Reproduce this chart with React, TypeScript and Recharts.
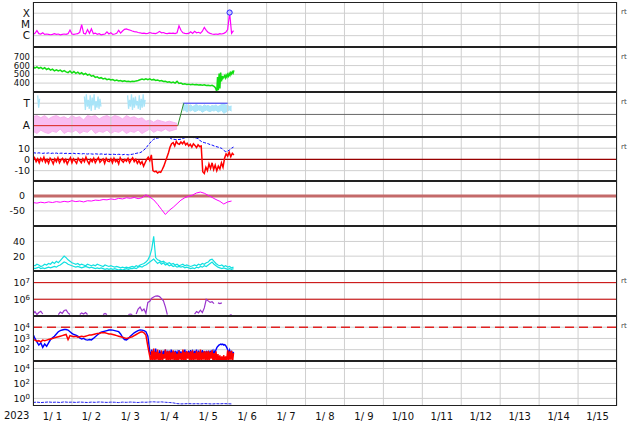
import React from 'react';
import { ComposedChart, Line, Area, XAxis, YAxis, ReferenceLine, ReferenceDot } from 'recharts';

const W = 634;
const PLOT_L = 33;
const PLOT_R = 617;
const TOP = 2;
const PH = 44.86;
const GRID = '#cfcfcf';
const FONT = '"DejaVu Sans", Verdana, sans-serif';

const days = [0, 1, 2, 3, 4, 5, 6, 7, 8, 9, 10, 11, 12, 13, 14, 15];
const dateLabels = ['1/ 1', '1/ 2', '1/ 3', '1/ 4', '1/ 5', '1/ 6', '1/ 7', '1/ 8', '1/ 9', '1/10', '1/11', '1/12', '1/13', '1/14', '1/15'];
const yearLabel = '2023';

// panel 1: x-ray flux in units of C1 (1e-6 W/m2), every 0.05 day
const xrayTicks = [1, 10, 100];
const xrayLabels = ['C', 'M', 'X'];
const xrayC = [
  1.3, 1.6, 2.8, 1.5, 1.4, 1.8, 1.3, 1.4, 1.3, 1.2,
  1.3, 1.5, 1.3, 1.4, 1.2, 1.3, 1.4, 1.3, 1.5, 3.2,
  1.4, 1.3, 1.4, 1.5, 2.0, 9.5, 1.6, 1.4, 3.5, 1.6,
  4.0, 1.5, 1.7, 1.3, 1.5, 1.2, 1.3, 1.4, 2.2, 1.4,
  1.8, 1.3, 1.4, 1.6, 3.0, 1.7, 2.6, 3.6, 4.0, 3.4,
  3.0, 2.6, 2.3, 2.2, 1.9, 1.8, 1.6, 1.7, 1.5, 1.6,
  1.9, 1.7, 1.6, 1.5, 1.8, 2.4, 1.8, 1.9, 1.6, 1.5,
  1.7, 1.6, 1.7, 1.5, 1.8, 7.5, 3.0, 1.8, 1.6, 1.5,
  1.6, 2.2, 1.6, 2.4, 1.8, 2.0, 1.6, 2.5, 5.5, 3.0,
  1.9, 1.6, 1.4, 1.3, 1.4, 1.3, 1.5, 1.4, 1.6, 2.0,
  3.5, 115, 1.6, 2.8,
];

// panel 2: solar wind speed (km/s)
const windTicks = [400, 500, 600, 700];
const windMain = [
  590, 572, 585, 568, 580, 562, 575, 555, 568, 548,
  560, 540, 552, 538, 548, 530, 542, 528, 520, 538,
  515, 532, 512, 525, 505, 518, 498, 510, 492, 500,
  478, 485, 465, 472, 455, 462, 448, 455, 440, 447,
  435, 440, 428, 435, 425, 430, 420, 426, 418, 422,
  415, 420, 418, 425, 430, 438, 445, 438, 450, 440,
  448, 435, 442, 430, 436, 425, 430, 418, 422, 410,
  415, 405, 412, 400, 420, 395, 400, 388, 392, 385,
  388, 382, 386, 380, 384, 378, 382, 376, 380, 372,
  376, 370, 374, 362,
];
const windEnd = [350, 330, 305, 470, 320, 510, 340, 520, 420, 480, 455, 470, 485, 460, 490, 470, 500, 480, 510, 490, 520, 505, 530, 515, 545];

// panel 3: IMF sector (A = away, T = toward)
const sectorTicks = [1, 3];
const sectorLabels = ['A', 'T'];
const sectorT = [0, 3.72, 3.87, 5.0];
const sectorV = [1, 1, 3, 3];
const pinkLo = [0.5, 0.3, 0.6, 0.4, 0.3, 0.5, 0.4, 0.7, 0.3, 0.5, 0.4, 0.6, 0.3, 0.5, 0.4, 0.7, 0.3, 0.5, 0.4, 0.6, 0.3, 0.5, 0.4, 0.6, 0.3, 0.5, 0.4, 0.6, 0.3, 0.5, 0.7, 0.4, 0.6, 0.5, 0.7, 0.5, 0.6, 0.7];
const pinkHi = [1.8, 1.9, 1.7, 1.9, 1.6, 1.8, 1.9, 1.7, 1.8, 1.6, 1.9, 1.7, 1.8, 1.5, 1.9, 1.8, 1.9, 1.6, 1.8, 1.9, 1.7, 1.9, 1.8, 1.6, 1.9, 1.7, 1.8, 1.6, 1.7, 1.4, 1.5, 1.3, 1.5, 1.4, 1.3, 1.4, 1.3, 1.2];
const towardLo = [2.3, 2.4, 2.2, 2.35, 2.3, 2.4, 2.25, 2.3, 2.4, 2.35, 2.2, 2.3, 2.4, 2.3, 2.25, 2.35, 2.3, 2.4, 2.2, 2.3, 2.35, 2.1, 2.2, 2.3, 2.4, 2.3];
const towardHi = [3.1, 2.8, 2.9, 2.75, 2.85, 2.7, 2.8, 2.9, 2.75, 2.8, 2.7, 2.85, 2.75, 2.8, 2.7, 2.8, 2.75, 2.85, 2.7, 2.8, 2.9, 2.95, 2.85, 2.8, 2.7, 2.75];
const towardSpots1 = [3.7, 2.6, 3.4];
const towardSpots2 = [3.6, 2.4, 3.8, 2.7, 3.3, 2.5, 3.7, 2.3, 3.5, 2.8, 3.8, 2.4, 3.2, 2.6, 3.6, 2.5, 3.4, 2.7];
const towardSpots3 = [3.7, 2.5, 3.3, 2.7, 3.8, 2.4, 3.5, 2.6, 3.6, 2.8, 3.2, 2.5, 3.7, 2.4, 3.4, 2.6, 3.8, 2.7, 3.3];

// panel 4: IMF Bt / Bz (nT)
const imfTicks = [-10, 0, 10];
const bt = [
  6.0, 5.8, 5.5, 5.9, 5.6, 5.4, 5.7, 5.5, 5.8, 5.3,
  5.6, 5.4, 5.7, 5.2, 5.5, 5.6, 5.3, 5.5, 5.1, 5.4,
  5.2, 5.5, 5.0, 5.3, 5.1, 4.9, 5.2, 5.0, 4.8, 5.1,
  4.9, 4.7, 5.0, 4.8, 4.6, 4.9, 4.7, 4.5, 4.8, 4.6,
  4.4, 4.7, 4.5, 4.3, 4.6, 4.4, 4.2, 4.5, 4.3, 4.1,
  4.4, 4.6, 5.0, 5.4, 5.8, 6, 7, 8.5, 10, 12.5,
  14.5, 16.5, 18, 18.5, 19, 19.5, 19.8, 20, 19.8, 19.5,
  19.7, 18.5, 18, 17.8, 17.5, 17.8, 18, 18.8, 19.3, 19.6,
  19.8, 19.5, 19.7, 19.2, 19, 18.5, 16.5, 15.5, 15, 14.5,
  14, 13.2, 12.8, 12, 11.5, 11, 10.5, 9.8, 8, 7,
  7.5, 8.5, 10, 11,
];
const bz = [
  -1, 1.5, -2, 0.5, -3, 1, -1.5, 2, -2.5, 0,
  -3.5, 1, -1, -4, 0.5, -2, 1.5, -3, -0.5, 1,
  -2.5, 0, -4, -1, 1.5, -3, 0.5, -1.5, -3.5, 1,
  -1, -3, 0.5, -2, 2, -1.5, -4, 0, -2, 1,
  -3, -0.5, 1.5, -2.5, -1, 0.5, -3.5, 1, -1.5, -2,
  0.5, -3, 1, -2, -0.5, -4, 1.5, -1, -2.5, 0,
  -1.5, 1, -3, -0.5, 1.5, -2, 0, -3.5, -1, -4,
  -2, -6, -3, 0, 2, -1, 4, -10, -11, -10.5,
  -12, -11, -11.5, -9, -6, -2, 2, 6, 11, 14,
  15, 12, 16, 14, 13.5, 15.5, 14, 16, 13, 14.5,
  12, 13.5, 11, 14, 12.5, 10.5, 13, 11.5, 12, -11,
  -12.5, -7, -10, -4, -8, -3, -9, -5, -10, -6,
  -8.5, -3, -7, 1, 5, 3, 6.5, 2.5, 5.5, 4,
];

// panel 5: Dst (nT), every 0.1 day
const dstTicks = [-50, 0];
const dst = [
  -22, -24, -21, -23, -20, -22, -19, -21, -18, -20,
  -16, -19, -17, -20, -16, -17, -14, -15, -12, -13,
  -10, -12, -8, -10, -6, -8, -5, -9, -6, 4,
  -4, -13, -28, -45, -62, -48, -38, -26, -14, -6,
  -1, 3, 10, 13, 9, 2, -5, -12, -18, -27,
  -20, -17,
];

// panel 6: two cyan indices
const idxTicks = [20, 40];
const idxA = [
  8, 7, 9, 8, 6, 7, 9, 8, 10, 9, 12, 10, 13, 11, 14, 17, 20, 18, 15, 13,
  11, 10, 9, 10, 8, 9, 8, 7, 9, 8, 7, 8, 7, 9, 8, 7, 6, 8, 7, 6,
  7, 6, 5, 6, 5, 4, 5, 4, 5, 4, 5, 6, 5, 7, 6, 8, 9, 10, 12, 15,
  20, 30, 47, 18, 15, 14, 12, 13, 11, 10, 11, 9, 10, 8, 9, 7, 8, 9, 7, 8,
  7, 6, 7, 8, 7, 9, 8, 10, 9, 11, 12, 15, 16, 13, 10, 8, 7, 8, 6, 7,
  5, 6, 4, 5,
];
const idxB = [
  4, 3, 4, 5, 3, 4, 3, 4, 5, 4, 5, 6, 5, 7, 8, 10, 12, 11, 9, 8,
  7, 6, 5, 6, 5, 4, 5, 6, 5, 4, 5, 4, 3, 4, 3, 4, 3, 2, 3, 2,
  3, 2, 3, 2, 1, 2, 1, 2, 3, 2, 3, 3, 4, 3, 5, 6, 5, 7, 8, 10,
  12, 14, 16, 13, 10, 12, 9, 11, 8, 9, 7, 8, 6, 7, 5, 6, 5, 6, 4, 5,
  4, 3, 4, 3, 5, 4, 6, 5, 7, 6, 8, 10, 12, 9, 7, 5, 4, 3, 4, 3,
  2, 3, 2, 3,
];

// panel 7: proton flux, log10
const protonTicks = [6, 7];
const protonLog = [
  5.11, 5.26, 5.08, 5.2, 5.28, 5.11, null, null, null, null,
  null, null, null, 5.08, 5.23, 5.15, 5.32, 5.36, 5.18, 5.08,
  null, null, null, null, 5.08, 5.18, 5.11, 5.2, 5.08, null,
  null, null, null, null, null, null, 5.08, 5.15, 5.08, null,
  null, null, null, null, null, null, null, null, null, 5.08,
  5.11, 5.08, null, 5.11, 5.41, 5.53, 5.3, 5.41, 5.15, 5.81,
  5.88, 6.06, 6.13, 6.19, 6.2, 6.16, 6.04, 5.9, 5.54, 5.08,
  null, null, null, null, null, null, null, null, null, null,
  null, null, null, 5.11, 5.26, 5.18, 5.34, 5.2, 5.48, 6.0,
  5.9, 5.81, 5.85, 5.74, null, 5.78, 5.74, 5.78, null, null,
  null, 5.04, 5.08,
];

// panel 8: electron flux, log10 (0.05 day before day 3, 0.025 day after)
const elecTicks = [2, 3, 4];
const elecBlueA = [
  3.4, 3.0, 2.7, 2.4, 2.6, 2.2, 2.5, 2.3, 2.6, 2.9,
  3.05, 3.2, 3.4, 3.6, 3.7, 3.75, 3.8, 3.8, 3.75, 3.6,
  3.45, 3.35, 3.3, 3.2, 3.05, 2.95, 3.0, 2.9, 2.85, 2.9,
  2.87, 3.0, 3.15, 3.3, 3.45, 3.55, 3.6, 3.65, 3.7, 3.75,
  3.76, 3.74, 3.7, 3.65, 3.6, 3.4, 3.1, 2.9, 2.87, 3.0,
  3.2, 3.35, 3.5, 3.6, 3.7, 3.76, 3.74, 3.7, 3.6, 3.2,
];
const elecRedA = [
  2.9, 2.85, 2.75, 2.8, 2.7, 2.85, 2.8, 2.85, 2.9, 2.95,
  3.0, 3.05, 3.1, 3.15, 3.2, 3.25, 3.3, 3.35, 2.9, 3.25,
  3.2, 3.15, 3.2, 3.1, 3.15, 3.2, 3.15, 3.2, 3.25, 3.3,
  3.3, 3.35, 3.4, 3.45, 3.45, 3.5, 3.5, 3.5, 3.45, 3.4,
  3.4, 3.35, 3.3, 3.25, 3.2, 3.15, 3.1, 3.05, 3.0, 3.05,
  3.1, 3.15, 3.25, 3.35, 3.45, 3.55, 3.6, 3.5, 3.3, 2.3,
];
const elecBlueB = [
  1.8, 1.5, 2.0, 1.2, 1.9, 1.0, 2.1, 1.3, 1.8, 1.1,
  1.95, 1.4, 1.85, 1.2, 1.9, 1.5, 2.0, 1.3, 1.8, 1.6,
  1.9, 1.4, 2.0, 1.5, 1.85, 1.3, 1.9, 1.6, 1.8, 1.4,
  1.95, 1.5, 1.85, 1.3, 1.9, 1.6, 2.0, 1.4, 1.8, 1.5,
  1.9, 1.3, 1.95, 1.6, 1.85, 1.4, 1.9, 1.5, 2.0, 1.3,
  1.8, 1.6, 1.9, 1.4, 1.95, 1.5, 1.85, 1.3, 1.9, 1.6,
  1.8, 1.5, 1.9, 1.6, 1.85, 1.5, 1.9, 1.7, 2.0, 2.2,
  2.3, 2.4, 2.45, 2.5, 2.45, 2.5, 2.4, 2.45, 2.35, 2.2,
  2.0, 1.7, 1.95, 1.5, 1.9, 1.4, 1.8,
];
const elecRedB = [
  1.4, 0.9, 1.9, 1.0, 2.1, 0.9, 1.8, 1.1, 2.0, 0.9,
  1.7, 1.0, 1.95, 0.9, 1.6, 1.2, 2.0, 0.9, 1.85, 1.0,
  1.9, 0.9, 1.75, 1.1, 1.95, 0.9, 1.8, 1.0, 1.65, 0.9,
  1.9, 1.1, 1.7, 0.9, 2.0, 1.0, 1.8, 0.9, 1.9, 1.2,
  1.75, 0.9, 1.85, 1.0, 1.95, 0.9, 1.7, 1.1, 1.9, 0.9,
  1.8, 1.0, 2.0, 0.9, 1.75, 1.1, 1.9, 0.9, 1.85, 1.0,
  1.9, 0.9, 1.8, 1.2, 1.95, 0.9, 1.7, 1.0, 1.85, 0.9,
  1.6, 0.9, 1.5, 0.9, 1.4, 1.0, 1.5, 0.9, 1.4, 1.0,
  1.95, 0.9, 1.85, 1.1, 1.9, 0.9, 1.7,
];

// panel 9: log10, every 0.1 day
const lowTicks = [0, 2, 4];
const lowLog = [
  -0.55, -0.5, -0.56, -0.52, -0.48, -0.53, -0.5, -0.55, -0.47, -0.52,
  -0.5, -0.54, -0.49, -0.52, -0.55, -0.5, -0.53, -0.48, -0.51, -0.54,
  -0.5, -0.52, -0.56, -0.5, -0.53, -0.49, -0.52, -0.55, -0.5, -0.52,
  -0.48, -0.46, -0.5, -0.47, -0.52, -0.55, -0.6, -0.7, -0.74, -0.72,
  -0.7, -0.73, -0.71, -0.74, -0.7, -0.72, -0.75, -0.71, -0.73, -0.7,
  -0.72, -0.74,
];

const rtPanels = [0, 1, 2, 3, 6, 7];

const seq = (t0: number, dt: number, vals: (number | null)[]) => vals.map((v, i) => ({ t: t0 + i * dt, v }));
const band = (t0: number, dt: number, lo: number[], hi: number[]) => lo.map((l, i) => ({ t: t0 + i * dt, v: [l, hi[i]] }));

const xrayData = seq(0, 0.05, xrayC);
const flarePeak = xrayData.reduce((a, b) => ((b.v as number) > (a.v as number) ? b : a));
const windData = [...seq(0, 0.05, windMain), ...seq(4.68, 0.02, windEnd)];
const sectorPts = sectorT.map((t, i) => ({ t, v: sectorV[i] }));

const txt = { fontFamily: FONT, fontSize: 9.5, fill: '#111' };

const labelTick = (ticks: number[], labels: string[]) => (p: any) => (
  <text x={p.x} y={p.y} dy="0.35em" textAnchor="end" {...txt} fontSize={10.5}>
    {labels[ticks.indexOf(p.payload.value)]}
  </text>
);
const powTick = (p: any) => (
  <text x={p.x} y={p.y} dy="0.4em" textAnchor="end" {...txt}>
    10<tspan dy="-0.5em" fontSize={7}>{p.payload.value}</tspan>
  </text>
);

const lineProps = { isAnimationActive: false, dot: false, activeDot: false, type: 'linear' as const, dataKey: 'v' };

type PanelProps = {
  index: number;
  domain: [number, number];
  ticks: number[];
  tick?: any;
  tickMargin?: number;
  scale?: 'linear' | 'log';
  bottom?: boolean;
  children?: React.ReactNode;
};

function Panel({ index, domain, ticks, tick = txt, tickMargin = 3, scale = 'linear', bottom = false, children }: PanelProps) {
  return (
    <div style={{ position: 'absolute', left: 0, top: TOP + index * PH }}>
      <ComposedChart width={W} height={PH + (bottom ? 18 : 0)} margin={{ top: 0, right: W - PLOT_R, bottom: 0, left: 0 }}>
        <XAxis
          type="number"
          dataKey="t"
          domain={[0, 15]}
          allowDataOverflow
          hide={!bottom}
          ticks={dateLabels.map((_, i) => i + 0.5)}
          interval={0}
          tickFormatter={(v: number) => dateLabels[Math.floor(v)]}
          axisLine={false}
          tickLine={false}
          tickSize={0}
          tickMargin={7}
          height={18}
          tick={{ ...txt, fontSize: 10 }}
        />
        <YAxis
          type="number"
          scale={scale}
          domain={domain}
          ticks={ticks}
          interval={0}
          allowDataOverflow
          width={PLOT_L}
          axisLine={false}
          tickLine={false}
          tickSize={0}
          tickMargin={tickMargin}
          tick={tick}
        />
        {days.map((d) => <ReferenceLine key={`gx${d}`} x={d} stroke={GRID} />)}
        {ticks.map((v) => <ReferenceLine key={`gy${v}`} y={v} stroke={GRID} />)}
        {children}
      </ComposedChart>
    </div>
  );
}

export default function App() {
  const seps = [1, 2, 3, 4, 5, 6, 7, 8];
  return (
    <div style={{ position: 'absolute', left: 0, top: 0, width: W, height: 424, background: '#fff', fontFamily: FONT }}>
      <Panel index={0} domain={[0.1, 1000]} ticks={xrayTicks} scale="log" tick={labelTick(xrayTicks, xrayLabels)}>
        <Line {...lineProps} data={xrayData} stroke="#ff00ff" strokeWidth={1.2} />
        <ReferenceDot x={flarePeak.t} y={flarePeak.v as number} r={2.6} fill="#c8c8ff" stroke="#2222ff" strokeWidth={1} />
      </Panel>

      <Panel index={1} domain={[300, 812]} ticks={windTicks} tick={{ ...txt, fontSize: 8.5 }}>
        <Line {...lineProps} data={windData} stroke="#11dd11" strokeWidth={1.5} />
      </Panel>

      <Panel index={2} domain={[0, 4]} ticks={sectorTicks} tick={labelTick(sectorTicks, sectorLabels)}>
        <Area isAnimationActive={false} data={band(0, 0.1, pinkLo, pinkHi)} dataKey="v" type="linear" stroke="#f6b0ee" strokeWidth={1} fill="#f9bdf2" fillOpacity={1} dot={false} activeDot={false} />
        <Area isAnimationActive={false} data={band(3.85, 0.05, towardLo, towardHi)} dataKey="v" type="linear" stroke="#a8e4f8" strokeWidth={1} fill="#ace6fa" fillOpacity={1} dot={false} activeDot={false} />
        <Line {...lineProps} data={seq(0.12, 0.025, towardSpots1)} stroke="#a8e4f8" strokeWidth={1.3} />
        <Line {...lineProps} data={seq(1.32, 0.025, towardSpots2)} stroke="#a8e4f8" strokeWidth={1.3} />
        <Line {...lineProps} data={seq(2.43, 0.025, towardSpots3)} stroke="#a8e4f8" strokeWidth={1.3} />
        <ReferenceLine y={2} stroke="#666" />
        <Line {...lineProps} data={sectorPts.slice(0, 2)} stroke="#e02020" strokeWidth={1} />
        <Line {...lineProps} data={sectorPts.slice(1, 3)} stroke="#2a8a2a" strokeWidth={1} />
        <Line {...lineProps} data={sectorPts.slice(2, 4)} stroke="#3333ff" strokeWidth={1} />
      </Panel>

      <Panel index={3} domain={[-20, 20]} ticks={imfTicks}>
        <ReferenceLine y={0} stroke="#990000" strokeWidth={1.2} />
        <Line {...lineProps} data={seq(0, 0.05, bt)} stroke="#0000ff" strokeWidth={1} strokeDasharray="3 1.5" />
        <Line {...lineProps} data={seq(0, 0.04, bz)} stroke="#ff0000" strokeWidth={1.5} />
      </Panel>

      <Panel index={4} domain={[-100, 50]} ticks={dstTicks} tickMargin={8}>
        <ReferenceLine y={0} stroke="#c46a6a" strokeWidth={3} />
        <Line {...lineProps} data={seq(0, 0.1, dst)} stroke="#ff00ff" strokeWidth={1} />
      </Panel>

      <Panel index={5} domain={[0, 61]} ticks={idxTicks} tickMargin={8}>
        <Line {...lineProps} data={seq(0, 0.05, idxB)} stroke="#11e0e0" strokeWidth={1.2} />
        <Line {...lineProps} data={seq(0, 0.05, idxA)} stroke="#11e0e0" strokeWidth={1.2} />
      </Panel>

      <Panel index={6} domain={[5, 7.7]} ticks={protonTicks} tick={powTick}>
        <ReferenceLine y={7} stroke="#cc0000" />
        <ReferenceLine y={6} stroke="#cc0000" />
        <Line {...lineProps} data={seq(0, 0.05, protonLog)} stroke="#9933cc" strokeWidth={1.2} />
      </Panel>

      <Panel index={7} domain={[1, 5]} ticks={elecTicks} tick={powTick}>
        <ReferenceLine y={4} stroke="#e02222" strokeWidth={1.5} strokeDasharray="9 5" />
        <Line {...lineProps} data={[...seq(0, 0.05, elecBlueA), ...seq(3.0, 0.025, elecBlueB)]} stroke="#0000ff" strokeWidth={1.4} />
        <Line {...lineProps} data={[...seq(0, 0.05, elecRedA), ...seq(3.0, 0.025, elecRedB)]} stroke="#ff0000" strokeWidth={1.5} />
      </Panel>

      <Panel index={8} domain={[-1, 5]} ticks={lowTicks} tick={powTick} bottom>
        <Line {...lineProps} data={seq(0, 0.1, lowLog)} stroke="#2222ee" strokeWidth={1} strokeDasharray="3 1" />
      </Panel>

      {/* frame and panel separators */}
      <div style={{ position: 'absolute', left: PLOT_L, top: TOP, width: PLOT_R - PLOT_L, height: 9 * PH, border: '1px solid #222', boxSizing: 'border-box', pointerEvents: 'none' }} />
      {seps.map((i) => (
        <div key={i} style={{ position: 'absolute', left: PLOT_L, top: TOP + i * PH - 1, width: PLOT_R - PLOT_L, height: 2, background: '#222', pointerEvents: 'none' }} />
      ))}
      {rtPanels.map((i) => (
        <span key={i} style={{ position: 'absolute', left: 621, top: TOP + i * PH + 6, fontSize: 7, lineHeight: '8px', color: '#444' }}>rt</span>
      ))}
      <div style={{ position: 'absolute', left: 4, top: 410, fontSize: 10, lineHeight: '12px', color: '#111' }}>{yearLabel}</div>
    </div>
  );
}
